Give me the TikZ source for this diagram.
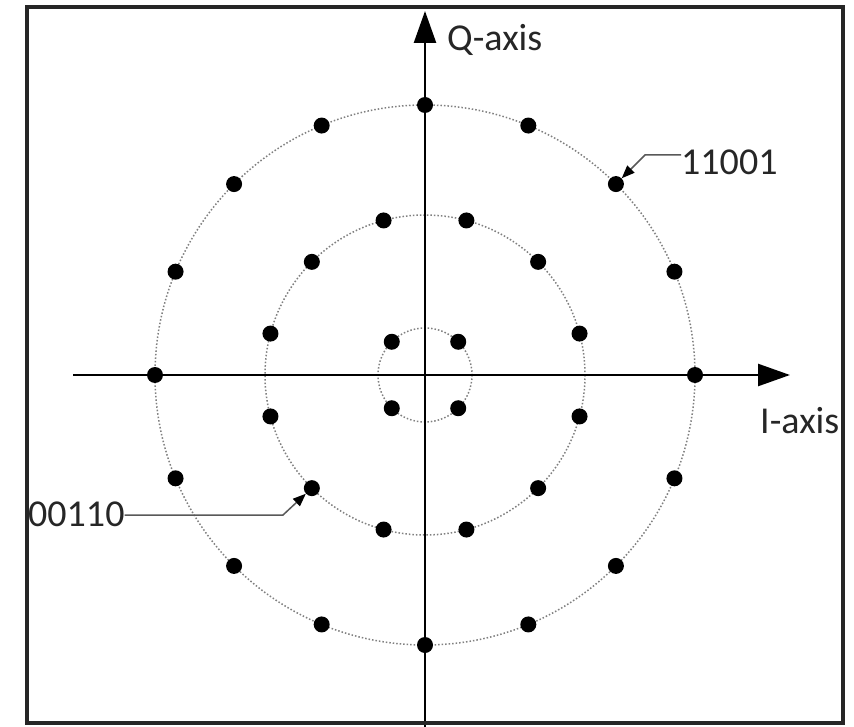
\documentclass[tikz,border=0pt]{standalone}
\usepackage{fontspec}
\setmainfont{Carlito}
\usetikzlibrary{arrows.meta,calc}
\begin{document}
\begin{tikzpicture}[x=1pt,y=-1pt,
  dot/.style={circle,fill=black,inner sep=0pt,minimum size=16pt},
  ring/.style={draw=gray, dotted, line width=1.5pt},
  axisline/.style={line width=2.5pt, -{Triangle[length=32pt,width=22pt]}},
  leader/.style={draw=black!65, line width=1.5pt, -{Triangle[length=13pt,width=10pt,fill=black,color=black]}},
  lbl/.style={font=\fontsize{38}{44}\selectfont, text=black!85, inner sep=0pt}]
\useasboundingbox (0,0) rectangle (854,727);
\fill[white] (0,0) rectangle (854,727);
\coordinate (c) at (425,375);
% rings
\draw[ring] (c) circle[radius=270];
\draw[ring] (c) circle[radius=160];
\draw[ring] (c) circle[radius=47];
% axes
\coordinate (ax1) at (73,375);
\coordinate (ax2) at (790,375);
\coordinate (ay1) at (425,727);
\coordinate (ay2) at (425,11);
\draw[axisline] (ax1) -- (ax2);
\draw[axisline] (ay1) -- (ay2);
% dots
\foreach \k in {0,...,15} \node[dot] (o\k) at ($(c)+(\k*22.5:270)$) {};
\foreach \k in {0,...,11} \node[dot] (m\k) at ($(c)+(15+\k*30:160)$) {};
\foreach \k in {0,...,3} \node[dot] (i\k) at ($(c)+(45+\k*90:47)$) {};
% labels
\begin{scope}
\clip (27,7) rectangle (843,723);
\node[lbl, anchor=west] (qlab) at (447,40) {Q-axis};
\node[lbl, anchor=west] (ilab) at (760,421) {I-axis};
\node[lbl, anchor=west] (l1) at (681,162) {11001};
\node[lbl, anchor=west] (l2) at (28,514) {00110};
\end{scope}
\coordinate (b1) at (645,155);
\coordinate (b2) at (283,515);
\draw[leader] (l1.west |- b1) -- (b1) -- (o14);
\draw[leader] (l2.east |- b2) -- (b2) -- (m4);
% frame
\draw[line width=3.2pt, black!85] (27,7) rectangle (843,723);
\end{tikzpicture}
\end{document}
